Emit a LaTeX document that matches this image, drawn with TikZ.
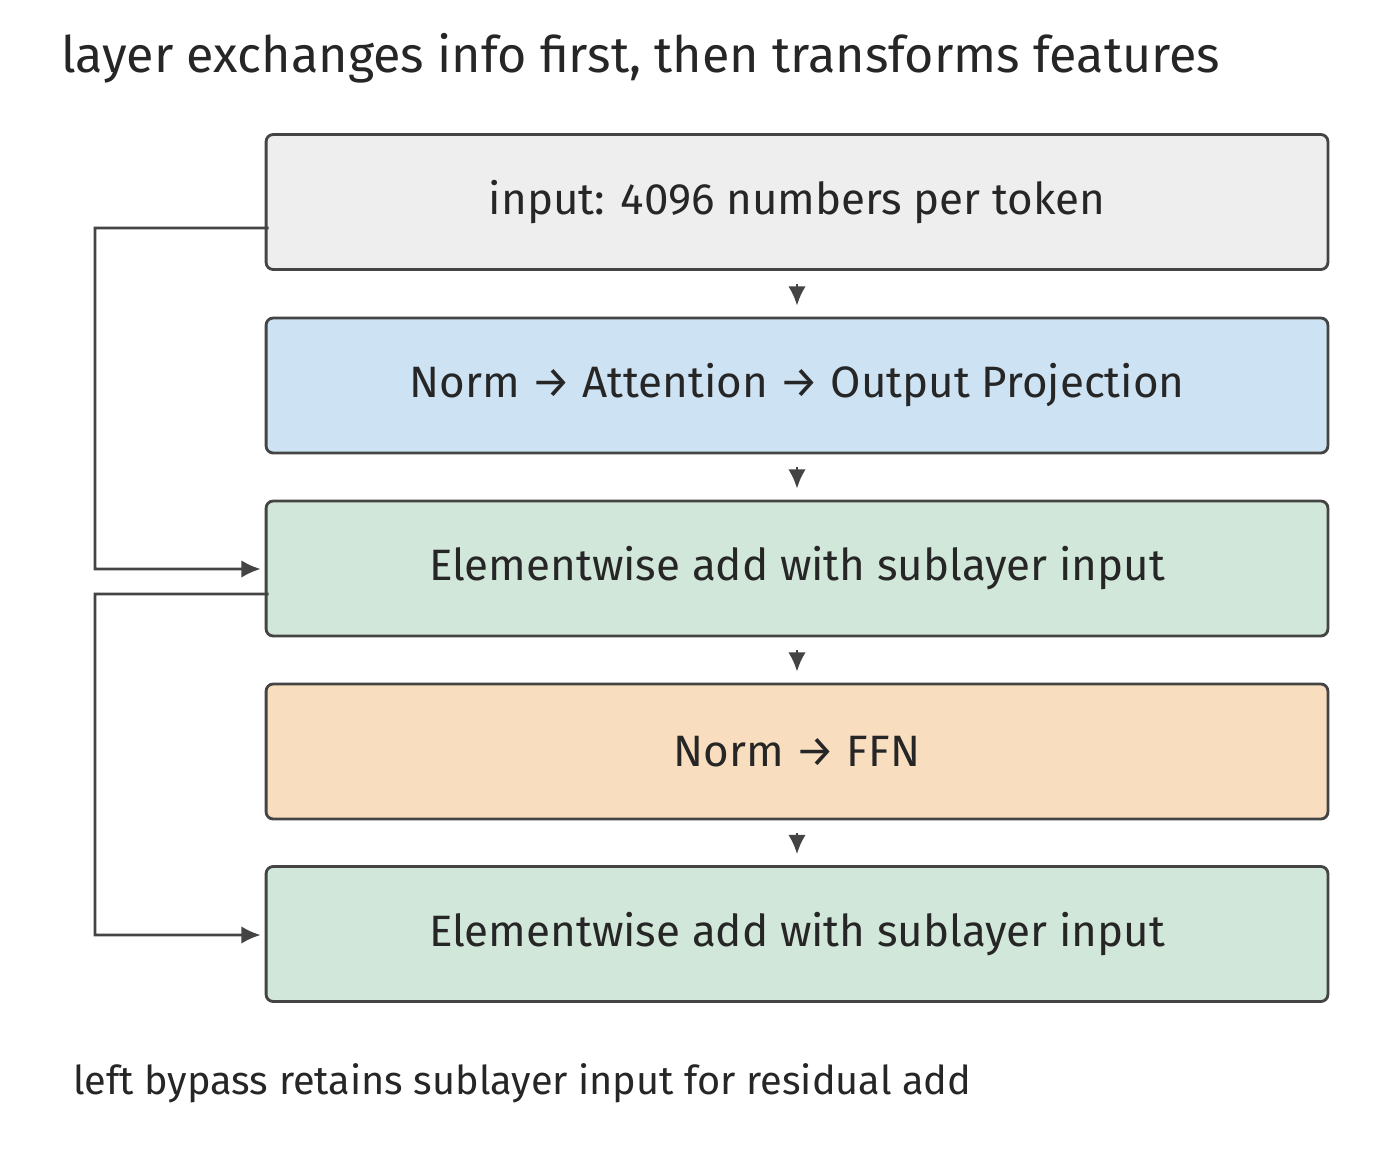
\documentclass[tikz,border=0pt]{standalone}
\usepackage{fontspec}
\setmainfont{Fira Sans}
\usetikzlibrary{positioning, arrows.meta, calc}
\definecolor{boxgray}{HTML}{EEEEEE}
\definecolor{boxblue}{HTML}{CDE2F2}
\definecolor{boxgreen}{HTML}{D1E7DA}
\definecolor{boxorange}{HTML}{F8DEBF}
\definecolor{edge}{HTML}{444444}
\begin{document}
\begin{tikzpicture}[x=0.02cm, y=-0.02cm,
    stage/.style={draw=edge, line width=1.6pt, rounded corners=4pt, minimum width=21.24cm, minimum height=2.7cm, font=\fontsize{25}{29}\selectfont, text=black!85},
    flow/.style={-{Latex[length=11pt,width=10pt]}, draw=edge, line width=1.6pt}]
    \useasboundingbox (0,0) rectangle (1400,1154);
    % title and note
    \node[anchor=west, font=\fontsize{28.6}{33}\selectfont, text=black!85] (title) at (55,58) {layer exchanges info first, then transforms features};
    \node[anchor=west, font=\fontsize{22.6}{26}\selectfont, text=black!85] (note) at (67,1083) {left bypass retains sublayer input for residual add};

    % stages
    \node[stage, fill=boxgray] (input) at (797,202) {input: 4096 numbers per token};
    \node[stage, fill=boxblue] (attn) at (797,385.5) {Norm → Attention → Output Projection};
    \node[stage, fill=boxgreen] (add1) at (797,568.5) {Elementwise add with sublayer input};
    \node[stage, fill=boxorange] (ffn) at (797,751.5) {Norm → FFN};
    \node[stage, fill=boxgreen] (add2) at (797,934) {Elementwise add with sublayer input};

    % main flow
    \draw[flow, shorten <=13pt*0.567, shorten >=11pt*0.567] (input) -- (attn);
    \draw[flow, shorten <=13pt*0.567, shorten >=11pt*0.567] (attn) -- (add1);
    \draw[flow, shorten <=13pt*0.567, shorten >=11pt*0.567] (add1) -- (ffn);
    \draw[flow, shorten <=13pt*0.567, shorten >=11pt*0.567] (ffn) -- (add2);

    % residual bypasses
    \draw[flow] ($(input.west)+(4,26)$) -- (95,228) -- (95,569) -- ($(add1.west)+(-4,0.5)$);
    \draw[flow] ($(add1.west)+(4,25.5)$) -- (95,594) -- (95,935) -- ($(add2.west)+(-4,1)$);
\end{tikzpicture}
\end{document}
